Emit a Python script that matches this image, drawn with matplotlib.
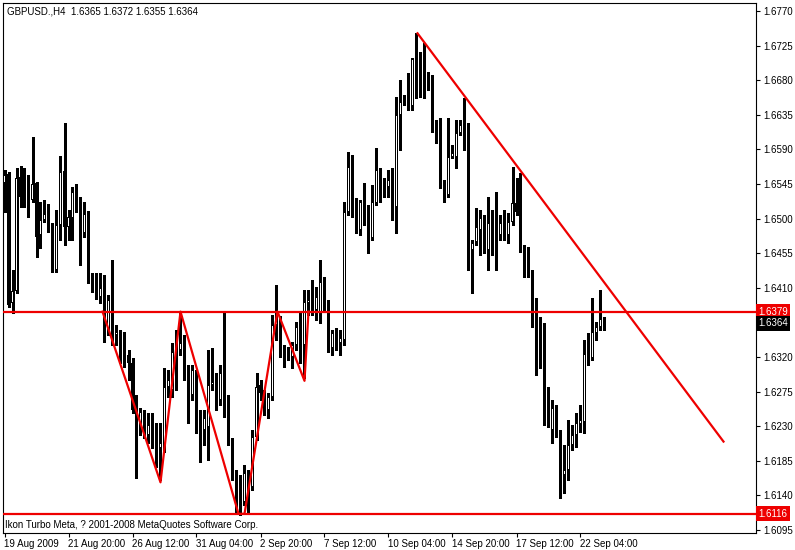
import matplotlib
matplotlib.use("Agg")
import matplotlib.pyplot as plt
import numpy as np

plt.rcParams['font.family'] = ['Liberation Sans', 'DejaVu Sans']

# GBPUSD H4 bars, 19 Aug 2009 .. 23 Sep 2009
opens = [1.6546, 1.6558, 1.6390, 1.6406, 1.6554, 1.6530, 1.6528, 1.6524, 1.6546, 1.6479,
         1.6498, 1.6506, 1.6489, 1.6433, 1.6492, 1.6562, 1.6489, 1.6501, 1.6536, 1.6518,
         1.6481, 1.6507, 1.6424, 1.6419, 1.6398, 1.6424, 1.6355, 1.6394, 1.6349, 1.6351,
         1.6329, 1.6323, 1.6312, 1.6260, 1.6234, 1.6249, 1.6219, 1.6232, 1.6223, 1.6202,
         1.6202, 1.6281, 1.6277, 1.6327, 1.6329, 1.6338, 1.6299, 1.6271, 1.6299, 1.6242,
         1.6225, 1.6229, 1.6284, 1.6288, 1.6264, 1.6299, 1.6267, 1.6212, 1.6169, 1.6160,
         1.6132, 1.6169, 1.6151, 1.6216, 1.6284, 1.6273, 1.6251, 1.6268, 1.6362, 1.6371,
         1.6329, 1.6320, 1.6320, 1.6336, 1.6358, 1.6336, 1.6390, 1.6405, 1.6381, 1.6379,
         1.6418, 1.6385, 1.6332, 1.6351, 1.6338, 1.6342, 1.6509, 1.6570, 1.6520, 1.6485,
         1.6522, 1.6515, 1.6475, 1.6520, 1.6561, 1.6548, 1.6541, 1.6550, 1.6515, 1.6635,
         1.6652, 1.6650, 1.6646, 1.6708, 1.6702, 1.6689, 1.6670, 1.6686, 1.6620, 1.6619,
         1.6548, 1.6531, 1.6580, 1.6580, 1.6611, 1.6623, 1.6622, 1.6459, 1.6470, 1.6485,
         1.6501, 1.6459, 1.6492, 1.6488, 1.6479, 1.6494, 1.6479, 1.6496, 1.6520, 1.6509,
         1.6459, 1.6455, 1.6431, 1.6394, 1.6349, 1.6338, 1.6268, 1.6225, 1.6254, 1.6223,
         1.6167, 1.6173, 1.6206, 1.6219, 1.6233, 1.6236, 1.6323, 1.6319, 1.6351, 1.6359,
         1.6365]
highs = [1.6563, 1.6561, 1.6433, 1.6566, 1.6568, 1.6566, 1.6557, 1.6606, 1.6548, 1.6522,
         1.6524, 1.6519, 1.6494, 1.6511, 1.6581, 1.6624, 1.6511, 1.6541, 1.6545, 1.6528,
         1.6522, 1.6510, 1.6429, 1.6429, 1.6429, 1.6427, 1.6401, 1.6446, 1.6362, 1.6355,
         1.6353, 1.6329, 1.6319, 1.6271, 1.6254, 1.6251, 1.6247, 1.6247, 1.6234, 1.6234,
         1.6306, 1.6303, 1.6338, 1.6355, 1.6380, 1.6349, 1.6310, 1.6310, 1.6303, 1.6251,
         1.6251, 1.6329, 1.6332, 1.6299, 1.6310, 1.6379, 1.6271, 1.6215, 1.6173, 1.6167,
         1.6180, 1.6173, 1.6225, 1.6299, 1.6290, 1.6277, 1.6273, 1.6375, 1.6414, 1.6373,
         1.6336, 1.6333, 1.6340, 1.6366, 1.6379, 1.6407, 1.6407, 1.6420, 1.6411, 1.6446,
         1.6424, 1.6394, 1.6355, 1.6358, 1.6355, 1.6522, 1.6587, 1.6583, 1.6527, 1.6524,
         1.6546, 1.6518, 1.6544, 1.6592, 1.6566, 1.6553, 1.6563, 1.6566, 1.6658, 1.6680,
         1.6661, 1.6689, 1.6709, 1.6741, 1.6717, 1.6728, 1.6691, 1.6687, 1.6628, 1.6631,
         1.6550, 1.6631, 1.6596, 1.6628, 1.6628, 1.6657, 1.6624, 1.6472, 1.6514, 1.6511,
         1.6505, 1.6528, 1.6511, 1.6535, 1.6505, 1.6511, 1.6507, 1.6567, 1.6553, 1.6559,
         1.6466, 1.6463, 1.6433, 1.6397, 1.6372, 1.6364, 1.6281, 1.6264, 1.6258, 1.6225,
         1.6206, 1.6238, 1.6232, 1.6247, 1.6258, 1.6342, 1.6351, 1.6397, 1.6366, 1.6407,
         1.6372]
lows = [1.6509, 1.6385, 1.6377, 1.6403, 1.6515, 1.6515, 1.6502, 1.6522, 1.6450, 1.6462,
        1.6496, 1.6483, 1.6431, 1.6431, 1.6472, 1.6466, 1.6472, 1.6472, 1.6509, 1.6440,
        1.6476, 1.6416, 1.6405, 1.6396, 1.6390, 1.6340, 1.6349, 1.6336, 1.6336, 1.6312,
        1.6307, 1.6290, 1.6247, 1.6163, 1.6219, 1.6215, 1.6208, 1.6202, 1.6177, 1.6160,
        1.6197, 1.6268, 1.6268, 1.6277, 1.6323, 1.6290, 1.6234, 1.6264, 1.6221, 1.6184,
        1.6206, 1.6186, 1.6277, 1.6251, 1.6258, 1.6242, 1.6206, 1.6160, 1.6117, 1.6115,
        1.6128, 1.6119, 1.6147, 1.6212, 1.6264, 1.6245, 1.6241, 1.6264, 1.6342, 1.6320,
        1.6307, 1.6316, 1.6306, 1.6329, 1.6312, 1.6293, 1.6375, 1.6375, 1.6368, 1.6364,
        1.6379, 1.6327, 1.6323, 1.6329, 1.6323, 1.6336, 1.6505, 1.6502, 1.6481, 1.6479,
        1.6492, 1.6455, 1.6472, 1.6518, 1.6522, 1.6528, 1.6528, 1.6498, 1.6481, 1.6589,
        1.6648, 1.6641, 1.6641, 1.6657, 1.6658, 1.6657, 1.6667, 1.6613, 1.6598, 1.6540,
        1.6522, 1.6528, 1.6579, 1.6566, 1.6609, 1.6589, 1.6433, 1.6403, 1.6466, 1.6453,
        1.6455, 1.6433, 1.6453, 1.6433, 1.6472, 1.6472, 1.6468, 1.6492, 1.6505, 1.6457,
        1.6424, 1.6424, 1.6359, 1.6297, 1.6306, 1.6232, 1.6229, 1.6208, 1.6216, 1.6137,
        1.6143, 1.6160, 1.6199, 1.6203, 1.6223, 1.6221, 1.6310, 1.6316, 1.6342, 1.6355,
        1.6355]
closes = [1.6557, 1.6388, 1.6406, 1.6553, 1.6528, 1.6527, 1.6526, 1.6545, 1.6476, 1.6498,
          1.6506, 1.6489, 1.6433, 1.6492, 1.6561, 1.6489, 1.6502, 1.6535, 1.6518, 1.6481,
          1.6506, 1.6424, 1.6416, 1.6398, 1.6410, 1.6355, 1.6394, 1.6349, 1.6353, 1.6327,
          1.6327, 1.6312, 1.6251, 1.6234, 1.6249, 1.6221, 1.6232, 1.6208, 1.6202, 1.6208,
          1.6281, 1.6290, 1.6327, 1.6336, 1.6338, 1.6299, 1.6271, 1.6303, 1.6242, 1.6228,
          1.6241, 1.6284, 1.6288, 1.6258, 1.6299, 1.6264, 1.6212, 1.6169, 1.6160, 1.6132,
          1.6169, 1.6151, 1.6216, 1.6281, 1.6273, 1.6251, 1.6268, 1.6362, 1.6375, 1.6329,
          1.6320, 1.6322, 1.6336, 1.6359, 1.6316, 1.6392, 1.6394, 1.6381, 1.6398, 1.6418,
          1.6385, 1.6332, 1.6351, 1.6338, 1.6345, 1.6509, 1.6567, 1.6518, 1.6488, 1.6522,
          1.6515, 1.6475, 1.6522, 1.6563, 1.6546, 1.6541, 1.6550, 1.6515, 1.6635, 1.6652,
          1.6653, 1.6646, 1.6708, 1.6702, 1.6689, 1.6671, 1.6673, 1.6620, 1.6619, 1.6546,
          1.6531, 1.6580, 1.6585, 1.6611, 1.6622, 1.6620, 1.6459, 1.6468, 1.6489, 1.6501,
          1.6459, 1.6494, 1.6485, 1.6479, 1.6494, 1.6489, 1.6496, 1.6520, 1.6509, 1.6459,
          1.6450, 1.6429, 1.6394, 1.6346, 1.6336, 1.6268, 1.6267, 1.6254, 1.6221, 1.6169,
          1.6173, 1.6206, 1.6219, 1.6234, 1.6238, 1.6324, 1.6318, 1.6353, 1.6359, 1.6369,
          1.6364]

date_bars = [0, 16, 32, 48, 64, 80, 96, 112, 128, 144]
date_labels = ["19 Aug 2009", "21 Aug 20:00", "26 Aug 12:00", "31 Aug 04:00", "2 Sep 20:00",
               "7 Sep 12:00", "10 Sep 04:00", "14 Sep 20:00", "17 Sep 12:00", "22 Sep 04:00"]
price_ticks = [1.6770, 1.6725, 1.6680, 1.6635, 1.6590, 1.6545, 1.6500, 1.6455, 1.6410,
               1.6320, 1.6275, 1.6230, 1.6185, 1.6140, 1.6095]

# zigzag drawn by the indicator
zz_bar = [24.5, 39, 44, 58.5, 60, 68.25, 75, 76]
zz_price = [1.6379, 1.6157, 1.6379, 1.6116, 1.6116, 1.6379, 1.6289, 1.6379]
# down trend line from the top
trend_bar = [103.25, 179.75]
trend_price = [1.6741, 1.6210]
resistance = 1.6379
support = 1.6116
last_price = 1.6364

RED = '#ee0000'
FS = 7.0

fig = plt.figure(figsize=(7.95, 5.5), dpi=100)
ax = fig.add_axes([3/795, 17/550, 753/795, 530/550])
# 4 px per bar, bar centres on pixel centres
ax.set_xlim(-0.375, 187.875)
ax.set_ylim(1.60911, 1.67804)

o = np.array(opens); h = np.array(highs); l = np.array(lows); c = np.array(closes)
x = np.arange(len(o))
up = c >= o
px = (1.67804 - 1.60911) / 530  # price of one pixel

body_lo = np.minimum(o, c)
body_h = np.maximum(np.abs(c - o), px)

ax.vlines(x, l, h, color='black', lw=0.75, antialiased=False, zorder=2)
# outline / black body
ax.bar(x, body_h, 0.75, body_lo, color='black', linewidth=0, antialiased=False, zorder=3)
# hollow inside of bull candles
inner = up & (body_h > 2.5 * px)
ax.bar(x[inner], body_h[inner] - 2 * px, 0.25, body_lo[inner] + px, color='white',
       linewidth=0, antialiased=False, zorder=3.5)

ax.axhline(resistance, color=RED, lw=1.6, zorder=4)
ax.axhline(support, color=RED, lw=1.6, zorder=4)
ax.plot(zz_bar, zz_price, color=RED, lw=1.6, zorder=4)
ax.plot(trend_bar, trend_price, color=RED, lw=1.6, zorder=4)

ax.set_xticks(date_bars)
ax.set_xticklabels(date_labels, fontsize=FS, ha='left')
ax.tick_params(axis='x', direction='out', length=3, width=0.8, pad=1.5)

ax.yaxis.tick_right()
ax.set_yticks(price_ticks + [last_price])
ax.set_yticklabels(['%.4f' % p for p in price_ticks] + [''], fontsize=FS)
ax.tick_params(axis='y', direction='out', length=3, width=0.8, pad=2)

for s in ax.spines.values():
    s.set_linewidth(0.8)

# price boxes on the right scale
trans = ax.get_yaxis_transform()
for val, col in [(resistance, RED), (last_price, 'black'), (support, RED)]:
    ax.text(1.003, val, '%.4f' % val, transform=trans, fontsize=FS, color='white',
            va='center', ha='left', clip_on=False,
            bbox=dict(boxstyle='square,pad=0.25', fc=col, ec='none'))

ax.text(0.005, 0.993, 'GBPUSD.,H4  1.6365 1.6372 1.6355 1.6364', transform=ax.transAxes,
        fontsize=FS, va='top', ha='left')
ax.text(0.003, 0.016, 'Ikon Turbo Meta, ? 2001-2008 MetaQuotes Software Corp.',
        transform=ax.transAxes, fontsize=FS, va='center', ha='left')

fig.savefig('out.png', dpi=100)
